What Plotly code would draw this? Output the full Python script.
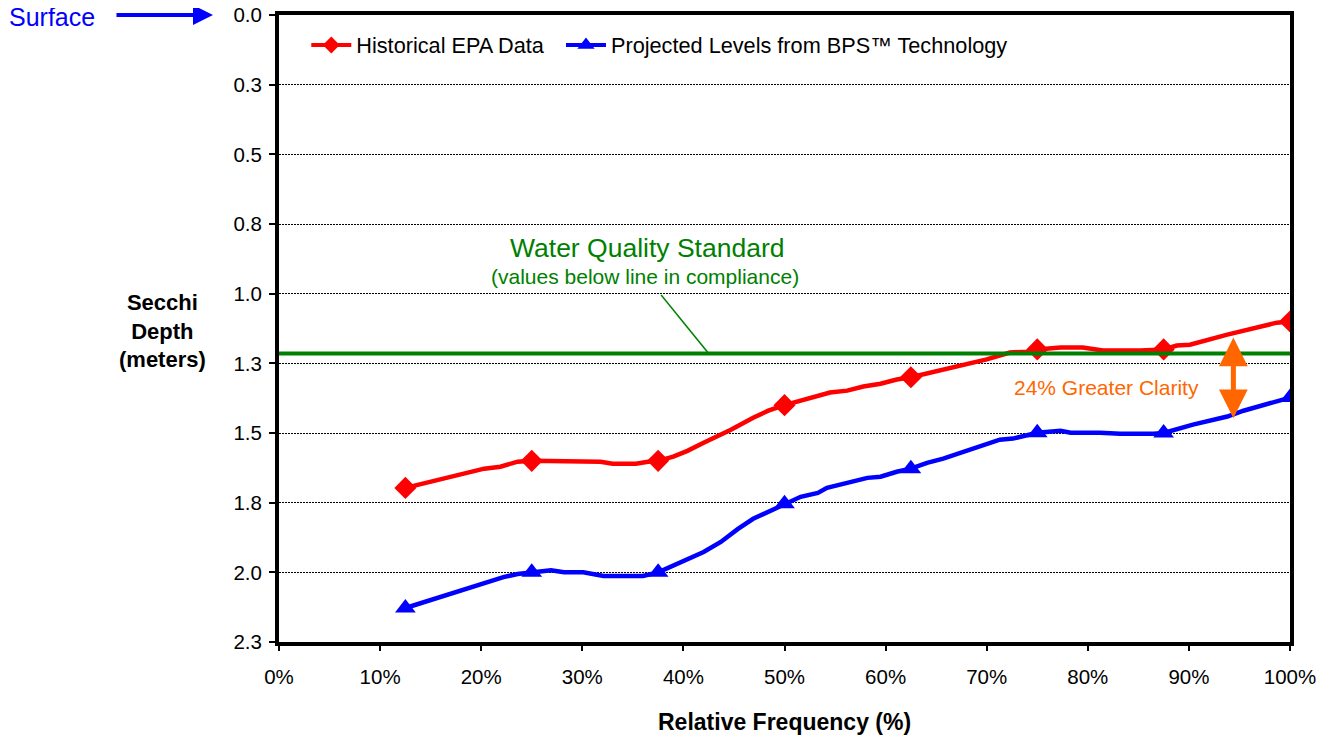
import plotly.graph_objects as go

# relative frequency (%) and secchi depth (m)
epa_pct = [12.5, 16, 20.3, 21.9, 23.6, 25, 29.8, 31.8, 33, 35.3, 36.5, 37.5, 39, 40.4, 42,
           44.7, 46.9, 48.4, 50, 52.3, 54.5, 56.2, 57.8, 59.5, 61.1, 62.5, 64.1, 66.1, 68.1,
           70, 72.3, 74, 75, 77.3, 79.5, 81.5, 85.2, 87.5, 88.8, 90.1, 93.8, 97, 98.7, 100]
epa_depth = [1.697, 1.667, 1.628, 1.621, 1.603, 1.60, 1.60, 1.603, 1.61, 1.61, 1.603, 1.60, 1.585,
             1.564, 1.535, 1.488, 1.445, 1.42, 1.40, 1.377, 1.355, 1.348, 1.333, 1.323, 1.308,
             1.30, 1.287, 1.269, 1.251, 1.236, 1.211, 1.208, 1.20, 1.193, 1.193, 1.204, 1.204,
             1.20, 1.186, 1.183, 1.147, 1.118, 1.104, 1.10]

bps_pct = [12.5, 15.7, 17.7, 19, 20.6, 22.2, 23.6, 25, 26.9, 28.2, 30.1, 32.1, 36, 37.5, 39.4,
           40.7, 42, 43.7, 45.4, 46.9, 48.6, 50, 51.6, 53.3, 54.2, 56.2, 58.2, 59.5, 61.1, 62.5,
           64.1, 65.7, 67.4, 69.4, 70.4, 71.3, 72.6, 75, 77.3, 78.3, 81.2, 83.2, 86.5, 87.5,
           90.4, 93.8, 95.4, 97, 100]
bps_depth = [2.128, 2.092, 2.07, 2.056, 2.035, 2.017, 2.006, 2.0, 1.993, 2.0, 2.0, 2.013, 2.013,
             2.0, 1.97, 1.948, 1.927, 1.891, 1.844, 1.808, 1.779, 1.754, 1.729, 1.715, 1.697,
             1.679, 1.661, 1.657, 1.639, 1.628, 1.607, 1.592, 1.571, 1.549, 1.538, 1.524, 1.52,
             1.499, 1.492, 1.499, 1.499, 1.503, 1.503, 1.50, 1.47, 1.441, 1.42, 1.405, 1.373]

marker_pct = [12.5, 25, 37.5, 50, 62.5, 75, 87.5, 100]

standard = 1.215          # water quality standard (m)
clarity_top = 1.152       # ends of the "greater clarity" arrow
clarity_bottom = 1.447
clarity_pct = 94.4

y_ticks = [0, 0.25, 0.5, 0.75, 1.0, 1.25, 1.5, 1.75, 2.0, 2.25]
y_labels = ["0.0", "0.3", "0.5", "0.8", "1.0", "1.3", "1.5", "1.8", "2.0", "2.3"]
x_ticks = [0, 10, 20, 30, 40, 50, 60, 70, 80, 90, 100]
x_labels = [f"{v}%" for v in x_ticks]

FONT = "Liberation Sans, Arial, sans-serif"
RED = "#FF0000"
BLUE = "#0000FF"
GREEN = "#008000"
ORANGE = "#FF6600"
NB = "\u00a0"

epa_lookup = dict(zip(epa_pct, epa_depth))
bps_lookup = dict(zip(bps_pct, bps_depth))

fig = go.Figure()

for name, xs, ys, look, col, sym, msize, lsize in [
    ("Historical EPA Data" + NB * 2, epa_pct, epa_depth, epa_lookup, RED, "diamond", 17, 13),
    ("Projected Levels from BPS™ Technology", bps_pct, bps_depth, bps_lookup, BLUE, "triangle-up", 18, 15),
]:
    fig.add_trace(go.Scatter(x=xs, y=ys, mode="lines", line=dict(color=col, width=4.5),
                             showlegend=False, hoverinfo="skip"))
    fig.add_trace(go.Scatter(x=marker_pct, y=[look[p] for p in marker_pct], mode="markers",
                             marker=dict(color=col, size=msize, symbol=sym), showlegend=False))
    # legend-only entry
    fig.add_trace(go.Scatter(x=[None], y=[None], mode="lines+markers", name=name,
                             line=dict(color=col, width=4),
                             marker=dict(color=col, size=lsize, symbol=sym)))

fig.add_shape(type="line", xref="x", yref="y", x0=0, x1=100, y0=standard, y1=standard,
              line=dict(color=GREEN, width=4))
# leader line from the label to the standard line
fig.add_shape(type="line", xref="x", yref="y", x0=37.8, x1=42.5, y0=1.005, y1=standard,
              line=dict(color=GREEN, width=1.5))

anns = [
    dict(x=36.4, y=0.836, xref="x", yref="y", text="Water Quality Standard", showarrow=False,
         font=dict(size=26.5, color=GREEN)),
    dict(x=36.25, y=0.94, xref="x", yref="y", text="(values below line in compliance)",
         showarrow=False, font=dict(size=21, color=GREEN)),
    dict(x=81.8, y=1.338, xref="x", yref="y", text="24% Greater Clarity", showarrow=False,
         font=dict(size=21, color=ORANGE)),
    dict(x=clarity_pct, y=clarity_bottom, ax=clarity_pct, ay=clarity_top, xref="x", yref="y",
         axref="x", ayref="y", text="", showarrow=True, arrowside="end+start", arrowhead=2,
         arrowsize=1.15, arrowwidth=5, arrowcolor=ORANGE),
    dict(x=-0.225, y=0.9968, xref="paper", yref="paper", xanchor="center", yanchor="middle",
         text="Surface", showarrow=False, font=dict(size=25, color=BLUE)),
    dict(x=-0.0653, y=1.0, xref="paper", yref="paper", ax=-98, ay=0, text="", showarrow=True,
         arrowhead=2, arrowsize=1, arrowwidth=4, arrowcolor=BLUE),
    dict(x=-0.1157, y=0.496, xref="paper", yref="paper", xanchor="center", yanchor="middle",
         text="<b>Secchi<br>Depth<br>(meters)</b>", showarrow=False,
         font=dict(size=22, color="black")),
    dict(x=0.5, y=-0.1276, xref="paper", yref="paper", xanchor="center", yanchor="middle",
         text="<b>Relative Frequency (%)</b>", showarrow=False,
         font=dict(size=23, color="black")),
]
for a in anns:
    fig.add_annotation(**a)

fig.update_xaxes(range=[0, 100], tickvals=x_ticks, ticktext=x_labels, showgrid=False,
                 zeroline=False, showline=True, linewidth=4, linecolor="black", mirror=True,
                 ticks="outside", ticklen=5, tickwidth=1.5, tickcolor="black",
                 ticklabelstandoff=8, automargin=False, ticklabeloverflow="allow",
                 tickfont=dict(size=20.5, color="black"))
fig.update_yaxes(range=[2.25, 0], tickvals=y_ticks, ticktext=y_labels, showgrid=True,
                 gridcolor="black", gridwidth=1, griddash="2px,1px", zeroline=False,
                 showline=True, linewidth=4, linecolor="black", mirror=True,
                 ticks="outside", ticklen=6, tickwidth=1.5, tickcolor="black",
                 ticklabelstandoff=3, automargin=False, ticklabeloverflow="allow",
                 tickfont=dict(size=20.5, color="black"))

# page body adds 8px on the left/top, so the figure is 8px smaller than the window
fig.update_layout(
    width=1326, height=732,
    margin=dict(l=271, r=44, t=7, b=98),
    paper_bgcolor="white", plot_bgcolor="white",
    font=dict(family=FONT, color="black"),
    legend=dict(orientation="h", x=0.027, y=0.985, xanchor="left", yanchor="top",
                bgcolor="rgba(0,0,0,0)", font=dict(size=21.7), itemwidth=40),
)

fig.write_html("out.html")
